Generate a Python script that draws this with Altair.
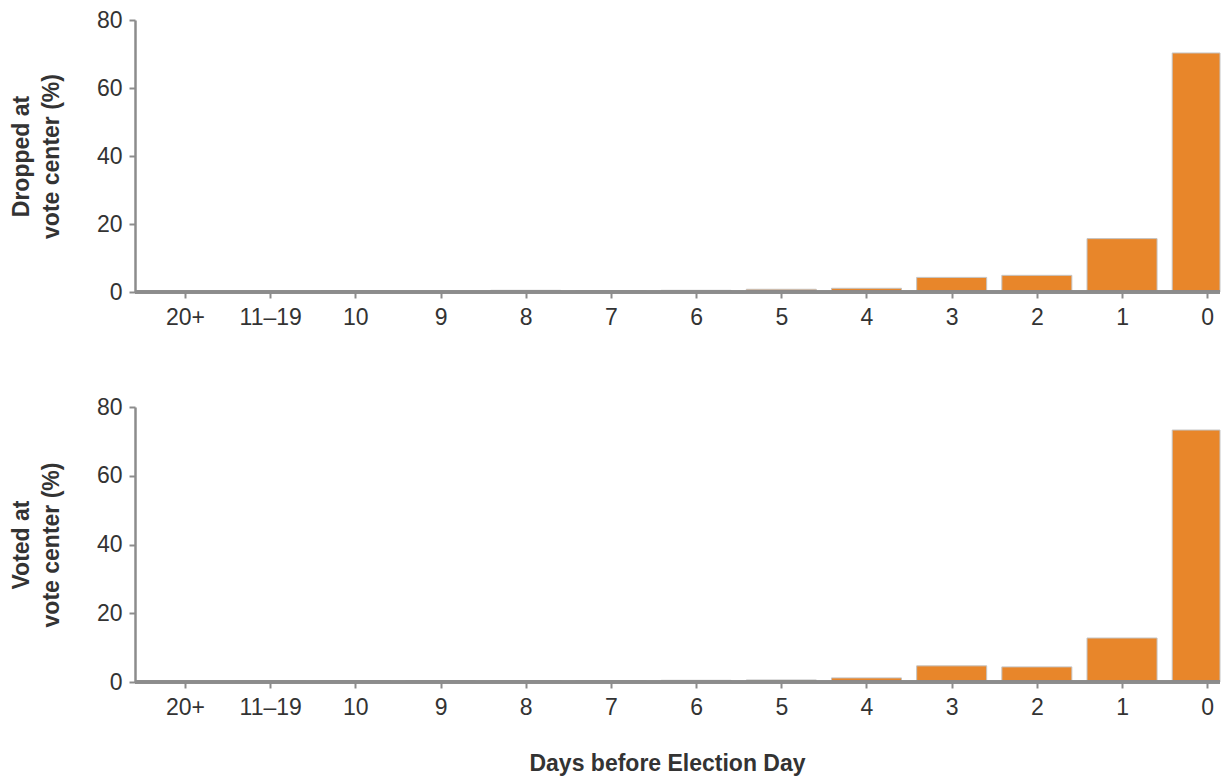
import altair as alt
import pandas as pd

days = ["20+", "11–19", "10", "9", "8", "7", "6", "5", "4", "3", "2", "1", "0"]
dropped_pct = [0.0, 0.0, 0.3, 0.0, 0.5, 0.4, 0.5, 0.8, 1.1, 4.3, 4.9, 15.7, 70.3]
voted_pct = [0.0, 0.2, 0.4, 0.3, 0.4, 0.4, 0.5, 0.6, 1.2, 4.7, 4.4, 12.8, 73.3]
y_ticks = [0, 20, 40, 60, 80]

FONT = "Liberation Sans"
BAR = "#E8862A"
AXIS = "#8c8c8c"
TEXT = "#333333"
HALF_BAR = 0.411            # half bar width, in category steps
X_DOMAIN = [-0.587, 12.15]  # last category runs off the right edge

label_expr = "[" + ",".join("'" + d + "'" for d in days) + "][datum.value]"


def panel(values, ytitle, show_xtitle, height):
    idx = list(range(len(days)))
    df = pd.DataFrame({
        "day": days,
        "pct": values,
        "x0": [i - HALF_BAR for i in idx],
        "x1": [i + HALF_BAR for i in idx],
    })
    xargs = dict(
        values=idx, labelExpr=label_expr, labelAngle=0, domain=False,
        ticks=True, tickSize=6, tickWidth=2, tickColor=AXIS,
        labelFontSize=23, labelColor=TEXT, labelPadding=8, labelFont=FONT,
        grid=False, labelFlush=False, labelOverlap=False,
    )
    if show_xtitle:
        x_axis = alt.Axis(
            title="Days before Election Day", titleX=532, titleY=88,
            titleBaseline="alphabetic", titleFontSize=23, titleFont=FONT,
            titleFontWeight="bold", titleColor=TEXT, **xargs,
        )
    else:
        x_axis = alt.Axis(title=None, **xargs)
    y_axis = alt.Axis(
        values=y_ticks, title=ytitle, titleFontSize=23, titleFont=FONT,
        titleFontWeight="bold", titleColor=TEXT, titleLineHeight=30,
        titlePadding=33, labelFontSize=23, labelFont=FONT, labelColor=TEXT,
        labelPadding=7, domainColor=AXIS, domainWidth=2.5, tickColor=AXIS,
        tickWidth=2, tickSize=6, grid=False,
    )
    bars = alt.Chart(df).mark_bar(
        color=BAR, stroke="#c4c4c4", strokeWidth=1
    ).encode(
        x=alt.X("x0:Q", axis=x_axis,
                scale=alt.Scale(domain=X_DOMAIN, clamp=True, nice=False,
                                zero=False)),
        x2="x1:Q",
        y=alt.Y("pct:Q", axis=y_axis,
                scale=alt.Scale(domain=[0, 80], nice=False)),
        y2=alt.datum(0),
    )
    rule = alt.Chart(df).mark_rule(color=AXIS, strokeWidth=2.5).encode(
        y=alt.datum(0)
    )
    return alt.layer(bars, rule).properties(width=1085, height=height)


top = panel(dropped_pct, ["Dropped at", "vote center (%)"], False, 272)
bottom = panel(voted_pct, ["Voted at", "vote center (%)"], True, 275)

chart = alt.vconcat(top, bottom, spacing=67).configure(
    padding={"left": 2, "top": 1, "right": 0, "bottom": 5}
).configure_view(stroke=None)

chart.save("out.html", embed_options={"renderer": "svg", "actions": False})
